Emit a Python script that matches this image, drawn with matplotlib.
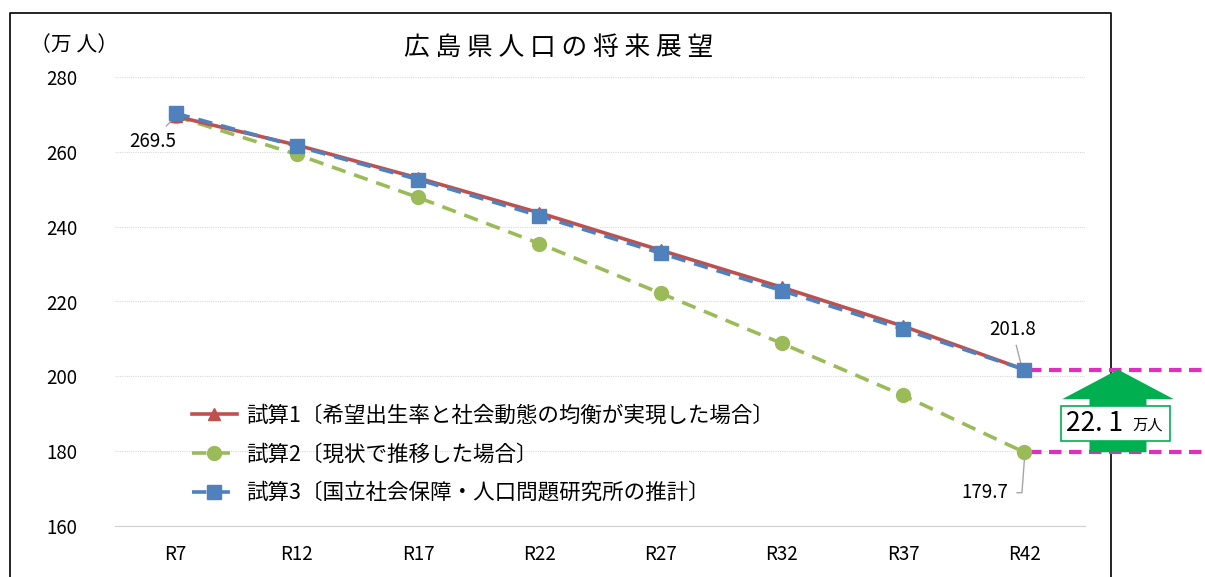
import matplotlib.pyplot as plt
from matplotlib.patches import Polygon, Rectangle
from matplotlib.lines import Line2D

plt.rcParams['font.family'] = ['Noto Sans CJK JP', 'DejaVu Sans']

years = ["R7", "R12", "R17", "R22", "R27", "R32", "R37", "R42"]
case1 = [269.5, 261.8, 253.0, 243.7, 233.7, 223.8, 213.4, 201.8]
case2 = [269.5, 259.3, 247.8, 235.5, 222.2, 208.8, 194.9, 179.7]
case3 = [270.3, 261.5, 252.6, 242.9, 232.9, 222.9, 212.6, 201.8]
labels = ["試算1〔希望出生率と社会動態の均衡が実現した場合〕",
          "試算2〔現状で推移した場合〕",
          "試算3〔国立社会保障・人口問題研究所の推計〕"]
diff = case1[-1] - case2[-1]

red = "#C0504D"
green = "#9BBB59"
blue = "#4F81BD"
magenta = "#E02FC0"
arrow_green = "#00B050"

fig = plt.figure(figsize=(12.05, 5.77), dpi=100)
ax = fig.add_axes([115 / 1205, 1 - 526 / 577, 970 / 1205, 449 / 577])

x = list(range(len(years)))
l1, = ax.plot(x, case1, color=red, lw=2.6, marker="^", ms=9, zorder=3)
l2, = ax.plot(x, case2, color=green, lw=2.6, ls=(0, (4, 2.5)), marker="o", ms=10, zorder=2)
l3, = ax.plot(x, case3, color=blue, lw=2.6, ls=(0, (4, 2.5)), marker="s", ms=10, zorder=4)

ax.set_xlim(-0.5, 7.5)
ax.set_ylim(160, 280)
ax.set_yticks(range(160, 281, 20))
ax.set_xticks(x)
ax.set_xticklabels(years)
ax.tick_params(length=0, labelsize=13.5, pad=13)
ax.tick_params(axis="y", pad=27)
for s in ["top", "right", "left"]:
    ax.spines[s].set_visible(False)
ax.spines["bottom"].set_color("#D0D0D0")
ax.grid(axis="y", color="#D9D9D9", lw=0.8, ls=(0, (1, 1)))
ax.set_axisbelow(True)

# data labels
ax.annotate("269.5", xy=(x[0] - 0.02, case1[0] - 0.6), xytext=(x[0] - 0.19, 262.8),
            fontsize=13.5, ha="center", va="center",
            arrowprops=dict(arrowstyle="-", color="#A6A6A6", lw=1))
ax.annotate("201.8", xy=(x[-1] - 0.02, case1[-1] + 0.4), xytext=(x[-1] - 0.1, 212.6),
            fontsize=13.5, ha="center", va="center",
            arrowprops=dict(arrowstyle="-", color="#A6A6A6", lw=1))
ax.text(x[-1] - 0.33, case2[-1] - 10.8, "179.7", fontsize=13.5, ha="center", va="center")
ax.plot([x[-1] - 0.06, x[-1] - 0.02, x[-1]], [case2[-1] - 10.8, case2[-1] - 10.8, case2[-1] - 2],
        color="#A6A6A6", lw=1, clip_on=False)

# gap markers
for v in (case1[-1], case2[-1]):
    ax.plot([x[-1] + 0.04, x[-1] + 1.95], [v, v], color=magenta, lw=3,
            ls=(0, (3, 1.8)), clip_on=False, zorder=1)

cx = 7.772
arrow = Polygon([(cx - 0.235, case2[-1]), (cx + 0.235, case2[-1]), (cx + 0.235, 193.9),
                 (cx + 0.46, 193.9), (cx, case1[-1]), (cx - 0.46, 193.9), (cx - 0.235, 193.9)],
                closed=True, facecolor=arrow_green, edgecolor="none", clip_on=False, zorder=5)
ax.add_patch(arrow)
ax.add_patch(Rectangle((7.30, 182.6), 0.90, 9.4, facecolor="white", edgecolor=arrow_green,
                       lw=1.2, clip_on=False, zorder=6))
ax.text(7.58, 187.4, f"{diff:.1f}".replace(".", ". "), fontsize=19, ha="center", va="center",
        zorder=7)
ax.text(8.02, 186.9, "万人", fontsize=11, ha="center", va="center", zorder=7)

# legend
ax.legend([l1, l2, l3], labels, loc="upper left", bbox_to_anchor=(0.07, 0.29), frameon=False,
          fontsize=15.5, handlelength=2.1, handletextpad=0.45, labelspacing=0.8,
          borderaxespad=0)

# title and unit
fig.text(559 / 1205, 1 - 48 / 577, " ".join("広島県人口の将来展望"), fontsize=18.5,
         ha="center", va="center")
fig.text(74 / 1205, 1 - 45 / 577, "（万 人）", fontsize=15, ha="center", va="center")

# outer frame
fig.add_artist(Line2D([10 / 1205, 10 / 1205, 1111 / 1205, 1111 / 1205],
                      [0, 1 - 13 / 577, 1 - 13 / 577, 0], color="black", lw=1.2, zorder=-1))

fig.savefig("out.png", dpi=100)
